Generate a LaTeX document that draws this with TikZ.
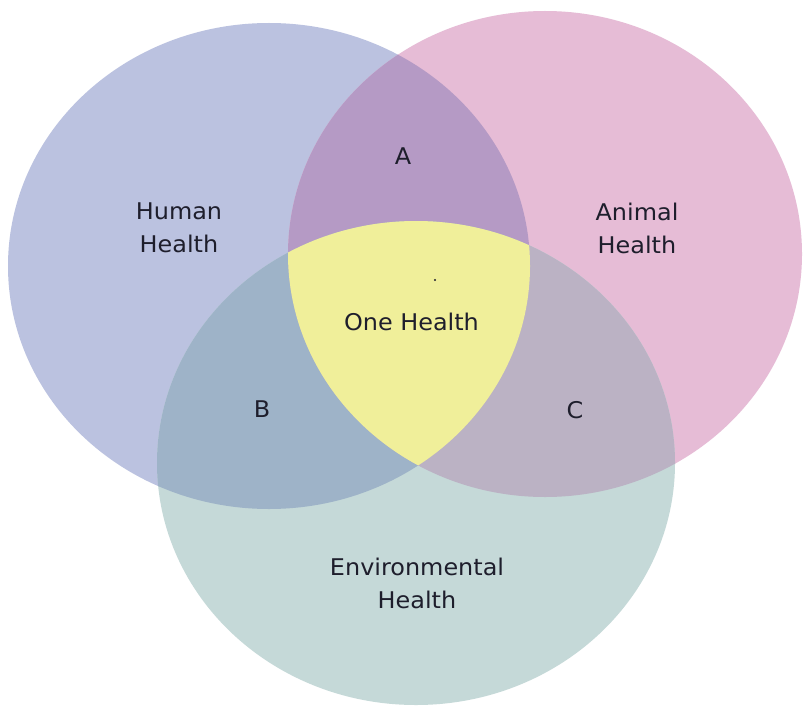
\documentclass[tikz,border=0pt]{standalone}
\usepackage{fontspec}
\setmainfont{DejaVu Sans}[FakeStretch=1.04]
\definecolor{humanc}{HTML}{BBC2E0}
\definecolor{animalc}{HTML}{E6BCD6}
\definecolor{envc}{HTML}{C5D9D8}
\definecolor{regA}{HTML}{B59AC5}
\definecolor{regB}{HTML}{9EB3C8}
\definecolor{regC}{HTML}{BBB2C4}
\definecolor{corec}{HTML}{F0EF9A}
\definecolor{ink}{HTML}{1E1E2C}
\tikzset{
  lbl/.style={font=\fontsize{23}{33}\selectfont, text=ink, inner sep=0pt, align=center}
}
\begin{document}
\begin{tikzpicture}[x=1pt,y=-1pt]
\fill[white] (0,0) rectangle (805,706);
\useasboundingbox (0,0) rectangle (805,706);
\def\humanset{(269,266) ellipse [x radius=261pt, y radius=243pt]}
\def\animalset{(545,254) ellipse [x radius=257pt, y radius=243pt]}
\def\envset{(416,463) ellipse [x radius=259pt, y radius=242pt]}
\fill[humanc] \humanset;
\fill[animalc] \animalset;
\fill[envc] \envset;
\begin{scope}\clip \humanset; \fill[regA] \animalset;\end{scope}
\begin{scope}\clip \humanset; \fill[regB] \envset;\end{scope}
\begin{scope}\clip \animalset; \fill[regC] \envset;\end{scope}
\begin{scope}\clip \humanset; \clip \animalset; \fill[corec] \envset;\end{scope}
\node[lbl] (human) at (179,228) {Human\\Health};
\node[lbl] (animal) at (637,228) {Animal\\Health};
\node[lbl] (envt) at (417,583) {Environmental\\Health};
\node[lbl,anchor=base] (a) at (403,164) {A};
\node[lbl,anchor=base] (one) at (411.5,330) {One Health};
\node[lbl,anchor=base] (b) at (262,417) {B};
\node[lbl,anchor=base] (c) at (575,418) {C};
\fill[ink] (435,280) circle (1.2pt);
\end{tikzpicture}
\end{document}
